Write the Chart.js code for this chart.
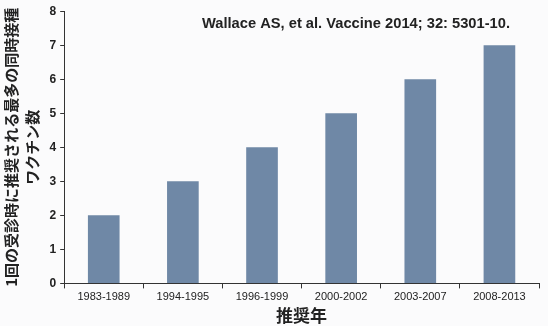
<!DOCTYPE html>
<html>
<head>
<meta charset="utf-8">
<script src="https://cdn.jsdelivr.net/npm/chart.js@4"></script>
<style>
  html, body { margin: 0; padding: 0; background: #fbfbfc; }
  #wrap { width: 548px; height: 326px; }
</style>
</head>
<body>
<div id="wrap"><canvas id="c" width="548" height="326"></canvas></div>
<script>
const periods = ['1983-1989', '1994-1995', '1996-1999', '2000-2002', '2003-2007', '2008-2013'];
const vaccineCounts = [2, 3, 4, 5, 6, 7];
const yTitle = ['1回の受診時に推奨される最多の同時接種', 'ワクチン数'];
const xTitle = '推奨年';
const citation = 'Wallace AS, et al. Vaccine 2014; 32: 5301-10.';

const jp = '"Noto Sans CJK JP", sans-serif';
const lat = '"Liberation Sans", Arial, sans-serif';

// citation text sits in the upper right of the plot
const citationPlugin = {
  id: 'citation',
  afterDraw(chart) {
    const ctx = chart.ctx;
    ctx.save();
    ctx.font = 'bold 14.7px ' + lat;
    ctx.fillStyle = '#222';
    ctx.textAlign = 'right';
    ctx.textBaseline = 'middle';
    ctx.fillText(citation, 510, 24);
    ctx.restore();
  }
};

new Chart(document.getElementById('c'), {
  type: 'bar',
  data: {
    labels: periods,
    datasets: [{
      data: vaccineCounts,
      backgroundColor: '#6f88a6',
      barPercentage: 0.4,
      categoryPercentage: 1.0,
    }],
  },
  options: {
    responsive: false,
    animation: false,
    layout: { padding: { top: -2, right: 9, left: 0, bottom: 0 } },
    plugins: { legend: { display: false }, tooltip: { enabled: false } },
    scales: {
      x: {
        grid: { display: true, drawOnChartArea: false, tickLength: 5, color: '#333' },
        border: { color: '#333', width: 1 },
        ticks: { color: '#222', font: { family: lat, size: 11 }, padding: 2, maxRotation: 0 },
        title: { display: true, text: xTitle, color: '#222', font: { family: jp, size: 17, weight: 'bold' }, padding: { top: 0, bottom: 0 } },
      },
      y: {
        min: 0,
        max: 8,
        grid: { display: true, drawOnChartArea: false, tickLength: 4, color: '#333' },
        border: { color: '#333', width: 1 },
        ticks: { stepSize: 1, color: '#222', font: { family: lat, size: 12, weight: 'bold' }, padding: 4 },
        title: { display: true, text: yTitle, color: '#222', font: { family: jp, size: 15, weight: 'bold', lineHeight: 1.45 }, padding: { top: 0, bottom: 2 } },
      },
    },
  },
  plugins: [citationPlugin],
});
</script>
</body>
</html>
